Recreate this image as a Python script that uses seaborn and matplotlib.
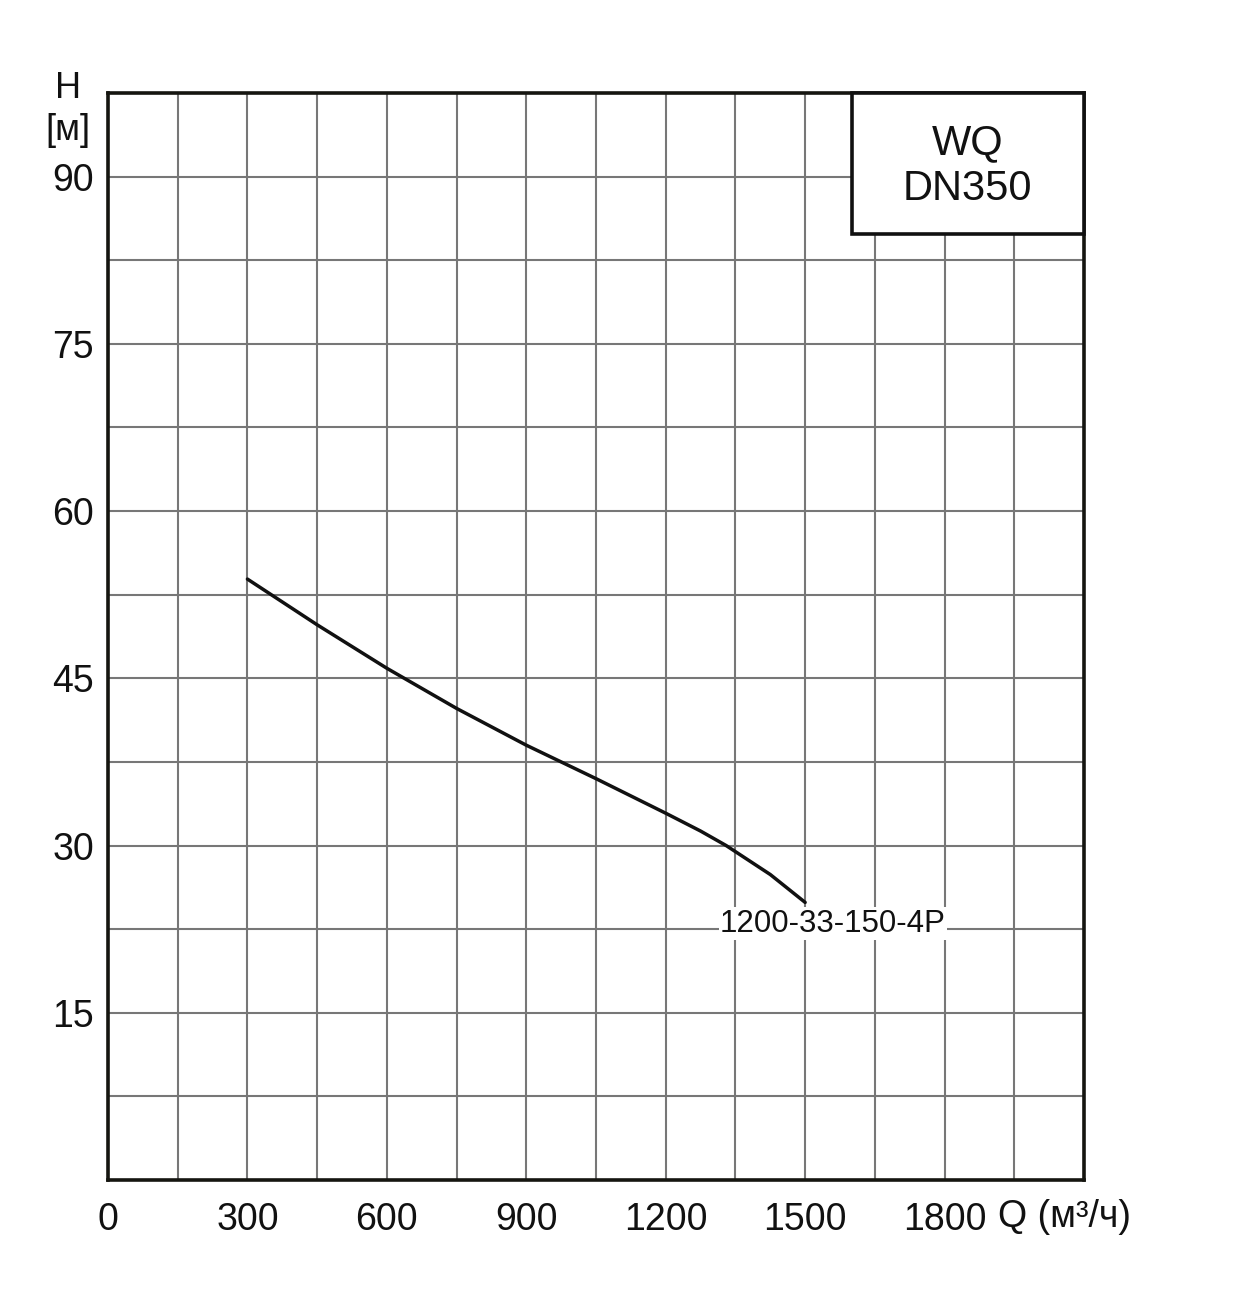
import matplotlib
matplotlib.use("Agg")
import matplotlib.pyplot as plt
import seaborn as sns
import pandas as pd
import numpy as np
from matplotlib.patches import Rectangle

# Data
flow_q = [300, 450, 600, 750, 900, 1050, 1200, 1275, 1330, 1425, 1500]
head_h = [53.9, 49.8, 45.9, 42.3, 39.0, 36.0, 32.9, 31.3, 30.0, 27.4, 24.9]
curve_label = "1200-33-150-4P"
x_tick_labels = ["0", "300", "600", "900", "1200", "1500", "1800"]
y_tick_labels = ["15", "30", "45", "60", "75", "90"]
title_lines = ["WQ", "DN350"]

sns.set_theme(style="white")
plt.rcParams['font.family'] = ['Liberation Sans', 'DejaVu Sans']

fig = plt.figure(figsize=(12.4, 12.99), dpi=100)
ax = fig.add_axes([108/1240, 1-1180/1299, (1084-108)/1240, (1180-93)/1299])

df = pd.DataFrame({"Q": flow_q, "H": head_h})
sns.lineplot(data=df, x="Q", y="H", ax=ax, color="#111111", linewidth=2.5, zorder=3)

ax.set_xlim(0, 2100)
ax.set_ylim(0, 97.5)

xt = np.arange(0, 2100 + 1, 150)
yt = np.arange(0, 97.5 + 0.01, 7.5)
ax.set_xticks(xt)
ax.set_yticks(yt)
xl = []
for v in xt:
    s = str(int(v))
    xl.append(s if s in x_tick_labels else "")
yl = []
for v in yt:
    s = str(int(v)) if float(v).is_integer() else ""
    yl.append(s if s in y_tick_labels else "")
ax.set_xticklabels(xl, fontsize=27)
ax.set_yticklabels(yl, fontsize=27)
ax.tick_params(axis="both", length=0, colors="#111111")
ax.tick_params(axis="x", pad=16)
ax.tick_params(axis="y", pad=10)

ax.grid(True, color="#777777", linewidth=1.5)
ax.set_axisbelow(True)
for sp in ax.spines.values():
    sp.set_color("#151510")
    sp.set_linewidth(2.6)
    sp.set_zorder(5)

ax.set_xlabel("")
ax.set_ylabel("")

# axis labels
fig.text(68/1240, 1-88/1299, "H", fontsize=26, ha="center", va="center", color="#111111")
fig.text(68/1240, 1-131/1299, "[м]", fontsize=26, ha="center", va="center", color="#111111")
fig.text(1064/1240, 1-1217/1299, "Q (м³/ч)", fontsize=27, ha="center", va="center", color="#111111")

# curve label
ax.text(1560, 23.0, curve_label, fontsize=22.5, ha="center", va="center", color="#111111",
        bbox=dict(facecolor="white", edgecolor="none", pad=1), zorder=4)

# title box
rect = Rectangle((0.762, 0.870), 0.238, 0.130, transform=ax.transAxes,
                 facecolor="white", edgecolor="#111111", linewidth=2.6, zorder=6, clip_on=False)
ax.add_patch(rect)
ax.text(0.881, 0.933, "\n".join(title_lines), transform=ax.transAxes, fontsize=30,
        ha="center", va="center", color="#111111", linespacing=1.2, zorder=7)

fig.savefig("out.png", dpi=100, facecolor="white")
